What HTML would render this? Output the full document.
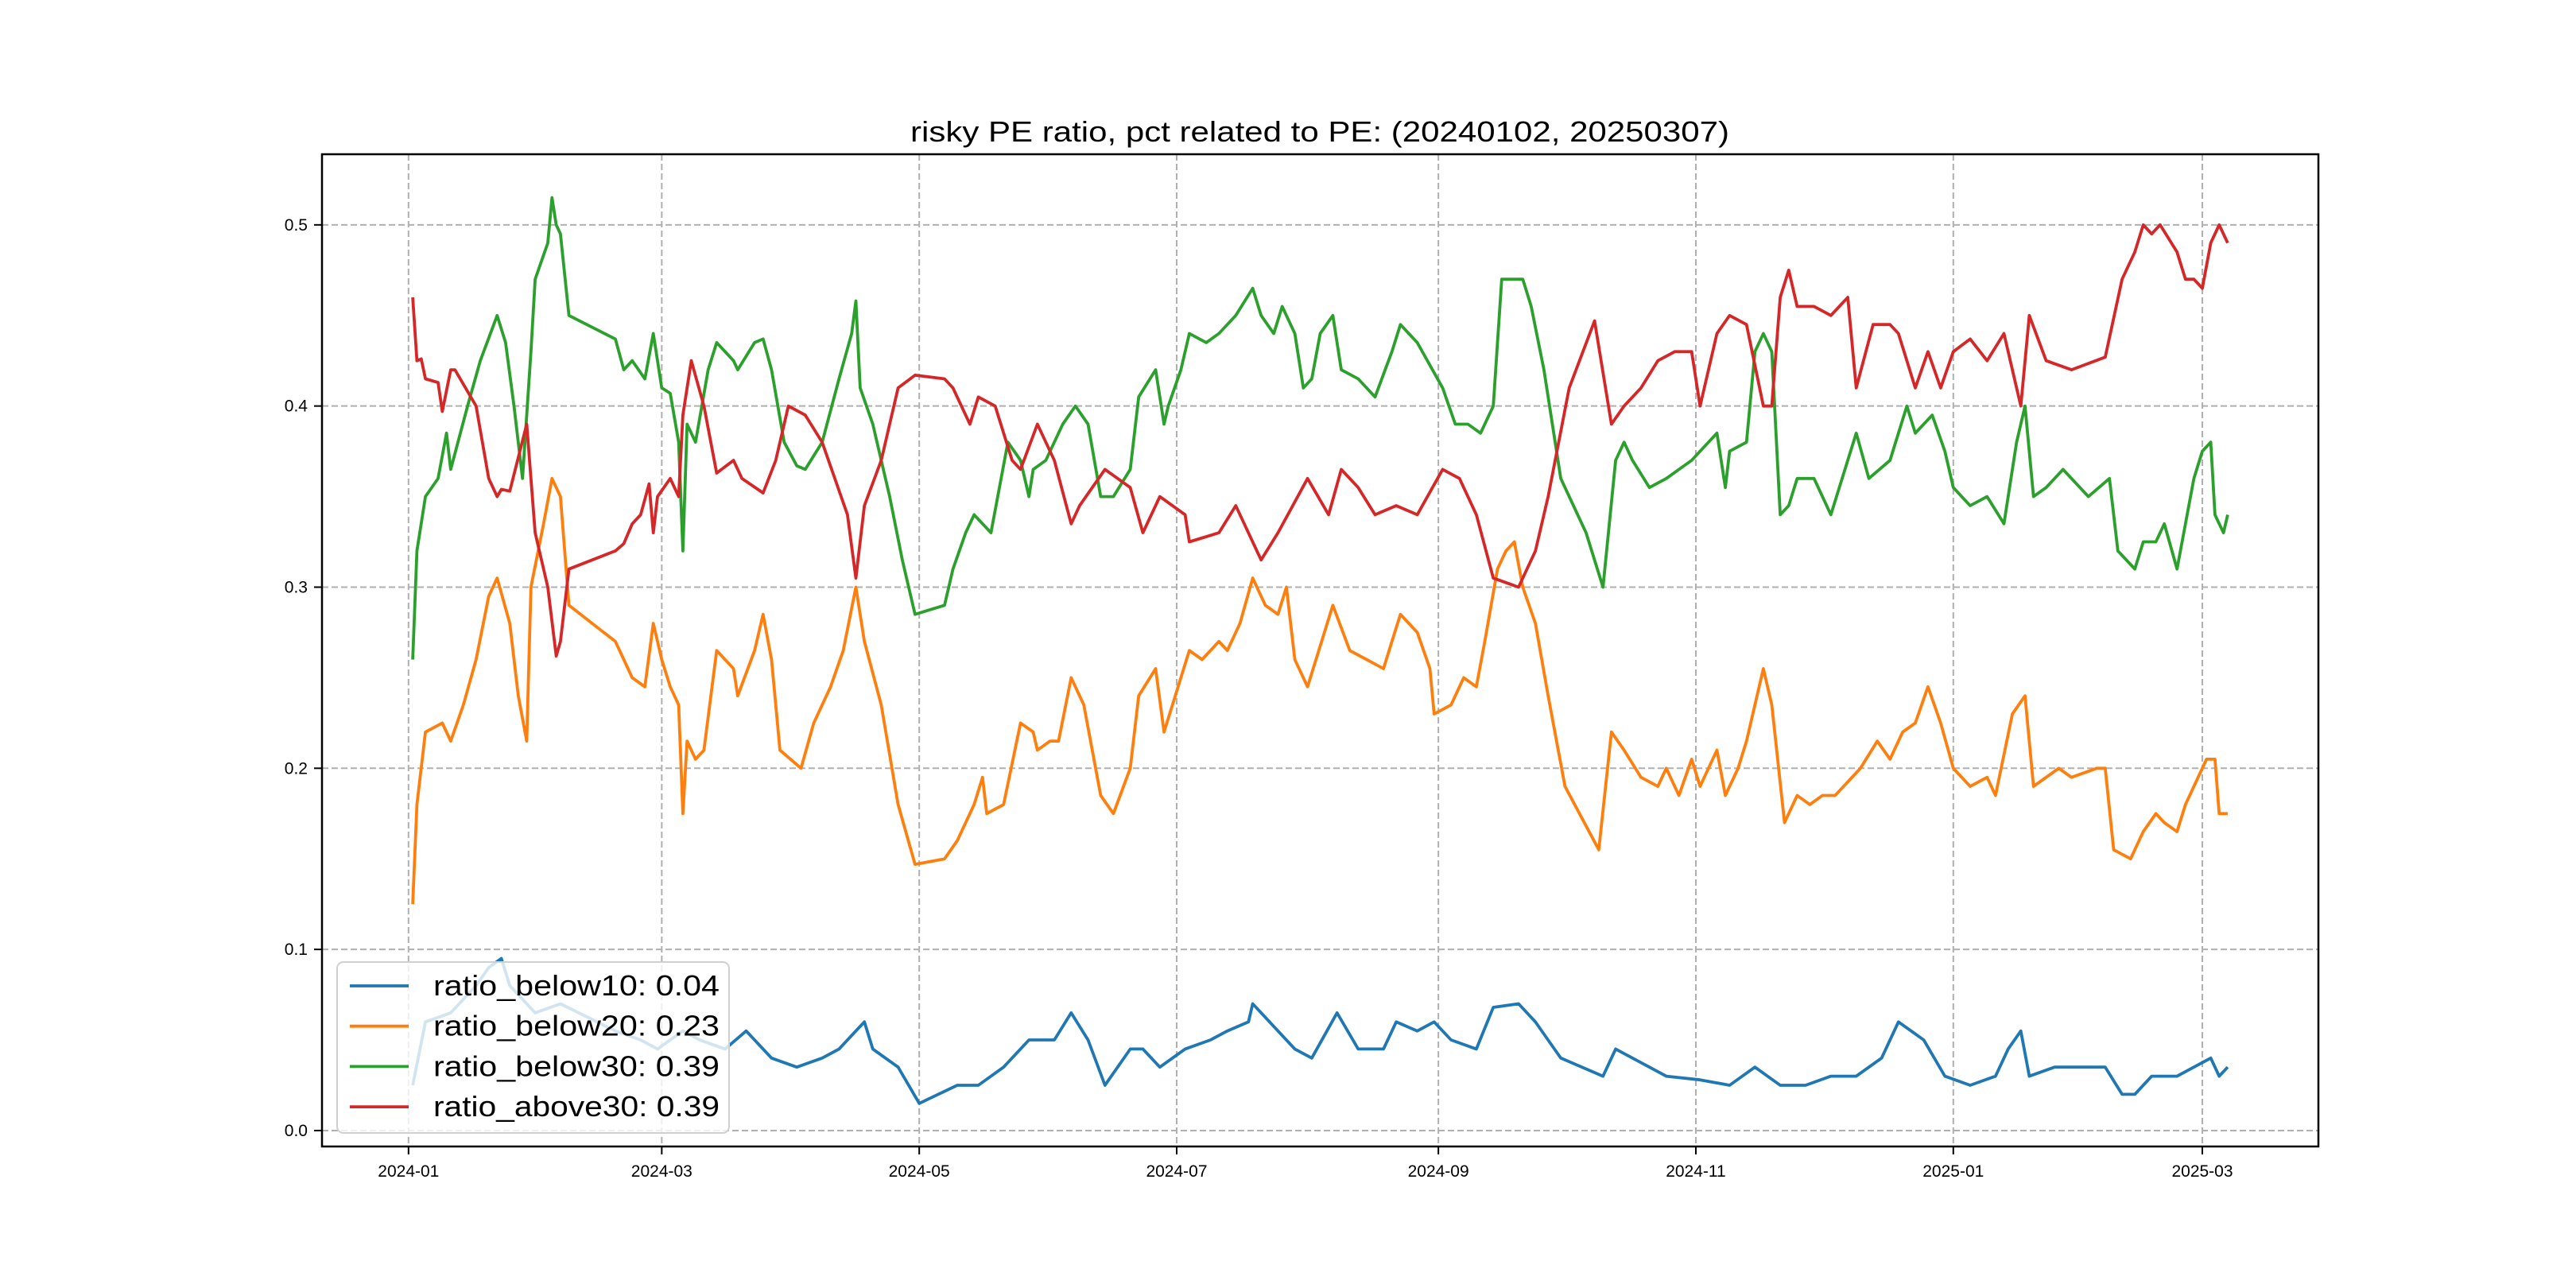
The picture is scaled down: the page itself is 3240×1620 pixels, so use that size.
<!DOCTYPE html>
<html><head><meta charset="utf-8"><style>
html,body{margin:0;padding:0;background:#fff;}
svg{display:block;font-family:"Liberation Sans","Noto Sans CJK SC",sans-serif;}
</style></head><body>
<svg id="chart" width="3240" height="1620" viewBox="0 0 3240 1620" xmlns="http://www.w3.org/2000/svg">
<rect width="3240" height="1620" fill="#fff"/>
<text x="1660" y="178" text-anchor="middle" font-size="36" textLength="1030" lengthAdjust="spacingAndGlyphs">risky PE ratio, pct related to PE: (20240102, 20250307)</text>
<g id="grid"></g>
<g id="series"></g>
<rect x="405" y="194" width="2511" height="1248" fill="none" stroke="#000" stroke-width="2.5"/>
<g id="ticks"></g>
<g id="legend"></g>
</svg>
<script>
// days since 2024-01-01
const blueDays=[1,4,10,16,19,22,24,30,36,49,55,59,65,69,75,80,86,92,98,102,106,108,110,116,121,130,135,141,147,153,157,161,165,171,174,178,184,190,194,199,200,206,210,214,220,225,231,234,239,243,247,253,257,263,267,273,283,286,290,298,306,313,319,325,331,337,343,349,353,359,364,370,376,379,382,384,390,394,402,406,409,413,419,423,427,429,431];
const blueVals=[.025,.06,.065,.08,.09,.095,.08,.065,.07,.055,.05,.045,.055,.05,.045,.055,.04,.035,.04,.045,.055,.06,.045,.035,.015,.025,.025,.035,.05,.05,.065,.05,.025,.045,.045,.035,.045,.05,.055,.06,.07,.055,.045,.04,.065,.045,.045,.06,.055,.06,.05,.045,.068,.07,.06,.04,.03,.045,.04,.03,.028,.025,.035,.025,.025,.03,.03,.04,.06,.05,.03,.025,.03,.045,.055,.03,.035,.035,.035,.02,.02,.03,.03,.035,.04,.03,.035];
const orangeDays=[1,2,4,8,10,13,16,19,21,24,26,28,29,32,34,36,38,49,51,53,56,58,60,62,64,65,66,68,70,73,77,78,82,84,86,88,93,96,100,103,106,108,112,116,120,127,130,134,136,137,141,145,148,149,152,154,157,160,164,167,171,173,177,179,181,185,188,192,194,197,200,203,206,208,210,213,217,219,223,227,231,233,235,239,242,243,247,250,253,255,258,260,262,264,267,270,274,282,285,288,292,296,298,301,304,306,310,312,315,317,321,323,326,329,332,335,338,344,348,351,354,357,360,363,366,370,374,376,380,383,385,388,391,394,400,402,404,408,411,414,416,419,421,424,426,428,429,431];
const orangeVals=[.125,.18,.22,.225,.215,.235,.26,.295,.305,.28,.24,.215,.30,.335,.36,.35,.29,.27,.26,.25,.245,.28,.26,.245,.235,.175,.215,.205,.21,.265,.255,.24,.265,.285,.26,.21,.20,.225,.245,.265,.30,.27,.235,.18,.147,.15,.16,.18,.195,.175,.18,.225,.22,.21,.215,.215,.25,.235,.185,.175,.20,.24,.255,.22,.235,.265,.26,.27,.265,.28,.305,.29,.285,.30,.26,.245,.275,.29,.265,.26,.255,.27,.285,.275,.255,.23,.235,.25,.245,.27,.31,.32,.325,.30,.28,.24,.19,.155,.22,.21,.195,.19,.20,.185,.205,.19,.21,.185,.20,.215,.255,.235,.17,.185,.18,.185,.185,.20,.215,.205,.22,.225,.245,.225,.20,.19,.195,.185,.23,.24,.19,.195,.20,.195,.20,.20,.155,.15,.165,.175,.17,.165,.18,.195,.205,.205,.175,.175];
const greenDays=[1,2,4,7,9,10,14,17,21,23,25,27,29,30,33,34,35,36,38,49,51,53,56,58,60,62,64,65,66,68,71,73,77,78,82,84,86,89,92,94,98,102,105,106,107,110,114,117,120,127,129,132,134,138,142,145,147,148,151,155,158,161,164,167,171,173,177,179,180,183,185,189,192,196,200,202,205,207,210,212,214,216,219,221,225,229,233,235,239,245,248,251,254,257,259,264,266,269,273,279,283,286,288,290,294,298,304,306,310,312,313,317,319,321,323,325,327,329,333,337,343,346,351,355,357,361,364,366,370,374,378,381,383,385,388,392,398,403,405,409,411,414,416,419,421,423,425,427,428,430,431];
const greenVals=[.26,.32,.35,.36,.385,.365,.40,.425,.45,.435,.40,.36,.43,.47,.49,.515,.50,.495,.45,.437,.42,.425,.415,.44,.41,.407,.38,.32,.39,.38,.42,.435,.425,.42,.435,.437,.42,.38,.367,.365,.38,.415,.44,.458,.41,.39,.35,.315,.285,.29,.31,.33,.34,.33,.38,.37,.35,.365,.37,.39,.40,.39,.35,.35,.365,.405,.42,.39,.40,.42,.44,.435,.44,.45,.465,.45,.44,.455,.44,.41,.415,.44,.45,.42,.415,.405,.43,.445,.435,.41,.39,.39,.385,.40,.47,.47,.455,.42,.36,.33,.30,.37,.38,.37,.355,.36,.37,.375,.385,.355,.375,.38,.43,.44,.43,.34,.345,.36,.36,.34,.385,.36,.37,.40,.385,.395,.375,.355,.345,.35,.335,.38,.40,.35,.355,.365,.35,.36,.32,.31,.325,.325,.335,.31,.335,.36,.375,.38,.34,.33,.34];
const redDays=[1,2,3,4,7,8,10,11,16,19,21,22,24,28,30,33,35,36,38,49,51,53,55,57,58,59,62,64,65,67,70,73,77,79,84,87,90,94,98,101,104,106,108,112,116,120,127,129,133,135,139,143,145,149,153,157,159,165,171,174,178,184,185,192,196,202,206,213,218,221,225,229,234,239,245,249,253,257,263,267,270,275,281,285,288,292,296,300,304,306,310,313,317,321,323,325,327,329,333,337,341,343,347,351,353,357,360,363,366,370,374,378,382,384,388,394,402,406,409,411,413,415,419,421,423,425,427,429,431];
const redVals=[.46,.425,.426,.415,.413,.397,.42,.42,.40,.36,.35,.354,.353,.39,.33,.30,.262,.27,.31,.32,.324,.335,.34,.357,.33,.35,.36,.35,.395,.425,.40,.363,.37,.36,.352,.37,.40,.395,.38,.36,.34,.305,.345,.37,.41,.417,.415,.41,.39,.405,.40,.37,.365,.39,.37,.335,.345,.365,.355,.33,.35,.34,.325,.33,.345,.315,.33,.36,.34,.365,.355,.34,.345,.34,.365,.36,.34,.305,.30,.32,.35,.41,.447,.39,.40,.41,.425,.43,.43,.40,.44,.45,.445,.40,.40,.46,.475,.455,.455,.45,.46,.41,.445,.445,.44,.41,.43,.41,.43,.437,.425,.44,.40,.45,.425,.42,.427,.47,.485,.50,.495,.50,.485,.47,.47,.465,.49,.50,.49];
const seriesNames=["ratio_below10","ratio_below20","ratio_below30","ratio_above30"];
const seriesLast=["0.04","0.23","0.39","0.39"];
const seriesColors=["#1f77b4","#ff7f0e","#2ca02c","#d62728"];
const yTicks=[0,0.1,0.2,0.3,0.4,0.5];
const yTickLabels=["0.0","0.1","0.2","0.3","0.4","0.5"];
const xTickDays=[0,60,121,182,244,305,366,425];
const xTickLabels=["2024-01","2024-03","2024-05","2024-07","2024-09","2024-11","2025-01","2025-03"];

const NS="http://www.w3.org/2000/svg";
const L=405,R=2916,T=194,B=1442;
const xMin=-20.5,xMax=452.5,yMin=-0.0088,yMax=0.539;
const X=d=>L+(d-xMin)/(xMax-xMin)*(R-L);
const Y=v=>B-(v-yMin)/(yMax-yMin)*(B-T);
function mk(tag,attrs,parent){const e=document.createElementNS(NS,tag);for(const k in attrs)e.setAttribute(k,attrs[k]);parent.appendChild(e);return e;}
const grid=document.getElementById('grid'),ticks=document.getElementById('ticks'),ser=document.getElementById('series'),leg=document.getElementById('legend');
yTicks.forEach((v,i)=>{
  const g=mk('line',{x1:L,x2:R,y1:Y(v),y2:Y(v),stroke:'#b0b0b0','stroke-width':2,'stroke-dasharray':'8,4'},grid);
  
  
  const t=mk('line',{x1:L-10,x2:L,y1:Y(v),y2:Y(v),stroke:'#000','stroke-width':2},ticks);
  
  
  const tx=mk('text',{x:L-18,y:Y(v)+7,'text-anchor':'end','font-size':21},ticks);
  tx.textContent=yTickLabels[i];
  
  
});
xTickDays.forEach((d,i)=>{
  const g=mk('line',{x1:X(d),x2:X(d),y1:T,y2:B,stroke:'#b0b0b0','stroke-width':2,'stroke-dasharray':'8,4'},grid);
  
  
  const t=mk('line',{x1:X(d),x2:X(d),y1:B,y2:B+10,stroke:'#000','stroke-width':2},ticks);
  
  
  const tx=mk('text',{x:X(d),y:B+38,'text-anchor':'middle','font-size':21},ticks);
  tx.textContent=xTickLabels[i];
  
  
});
const allDays=[blueDays,orangeDays,greenDays,redDays],allVals=[blueVals,orangeVals,greenVals,redVals];
allDays.forEach((days,s)=>{
  const pts=days.map((d,i)=>X(d).toFixed(1)+','+Y(allVals[s][i]).toFixed(1)).join(' ');
  const p=mk('polyline',{points:pts,fill:'none',stroke:seriesColors[s],'stroke-width':3.8,'stroke-linejoin':'round'},ser);
  
  
});
const box=mk('rect',{x:424,y:1210,width:493,height:215,rx:8,fill:'#fff','fill-opacity':0.8,stroke:'#d0d0d0','stroke-width':2},leg);


seriesNames.forEach((n,i)=>{
  const y=1240+i*50.7;
  const ln=mk('line',{x1:440,x2:514,y1:y,y2:y,stroke:seriesColors[i],'stroke-width':3.8},leg);
  
  
  const tx=mk('text',{x:545,y:y+12,'font-size':36,textLength:360,lengthAdjust:'spacingAndGlyphs'},leg);
  tx.textContent=n+': '+seriesLast[i];
  
  
});
</script>
</body></html>
